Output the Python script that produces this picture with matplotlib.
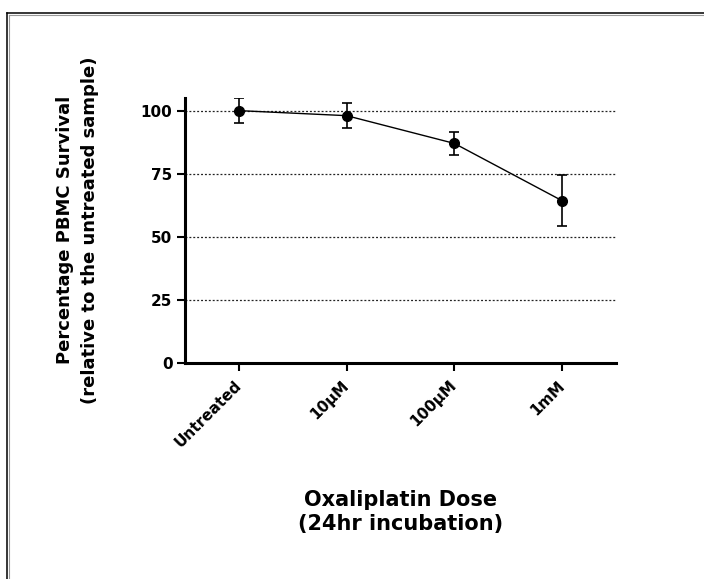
import matplotlib
matplotlib.use("Agg")
import matplotlib.pyplot as plt
from matplotlib.lines import Line2D

# Dose-response data: mean survival (% of untreated) with error
doses = ["Untreated", "10µM", "100µM", "1mM"]
survival = [100, 98, 87, 64.3]
error = [4.9, 4.9, 4.6, 10.1]
y_ticks = [0, 25, 50, 75, 100]

plt.rcParams["font.family"] = ["DejaVu Sans"]
plt.rcParams["font.weight"] = "bold"
plt.rcParams["lines.scale_dashes"] = False

W, H = 704, 579
fig = plt.figure(figsize=(W / 100, H / 100), dpi=100)
fig.patch.set_facecolor("white")

# axes box in pixel coordinates
x0, x1, ytop, ybot = 185, 616, 98, 363
ax = fig.add_axes([x0 / W, (H - ybot) / H, (x1 - x0) / W, (ybot - ytop) / H])

x = list(range(len(doses)))
ax.errorbar(x, survival, yerr=error, color="black", lw=1.0, marker="o",
            ms=7, mfc="black", mec="black", ecolor="black", elinewidth=1.2,
            capsize=3.4, capthick=1.2, zorder=3)

ax.set_xlim(-0.5, 3.5)
ax.set_ylim(0, 105)
ax.set_yticks(y_ticks)
ax.set_xticks(x)
ax.set_xticklabels(doses, rotation=45, ha="right", va="center",
                   rotation_mode="anchor")

# dotted horizontal guides
for yv in y_ticks[1:]:
    ax.axhline(yv, color="#222222", lw=0.9, dashes=(1.4, 1.4), zorder=1)

for side in ("top", "right"):
    ax.spines[side].set_visible(False)
for side in ("left", "bottom"):
    ax.spines[side].set_linewidth(2.2)

ax.tick_params(axis="both", direction="out", length=5.5, width=1.5,
               labelsize=11, pad=3.5)
ax.tick_params(axis="x", pad=9)
for lab in ax.get_xticklabels() + ax.get_yticklabels():
    lab.set_fontweight("bold")

fig.text(78 / W, (H - 230) / H,
         "Percentage PBMC Survival\n(relative to the untreated sample)",
         rotation=90, ha="center", va="center", fontsize=13,
         fontweight="bold", linespacing=1.5, multialignment="center")

fig.text((x0 + x1) / 2 / W, (H - 512) / H,
         "Oxaliplatin Dose\n(24hr incubation)",
         ha="center", va="center", fontsize=15, fontweight="bold",
         linespacing=1.3, multialignment="center")

# outer frame along the top and left edges
fig.add_artist(Line2D([7 / W, 7 / W], [0, 1 - 13 / H], color="black",
                      lw=1.1, transform=fig.transFigure))
fig.add_artist(Line2D([7 / W, 1], [1 - 13 / H, 1 - 13 / H], color="black",
                      lw=1.1, transform=fig.transFigure))
fig.add_artist(Line2D([8.6 / W, 8.6 / W], [0, 1 - 14.6 / H], color="#999999",
                      lw=0.8, transform=fig.transFigure))
fig.add_artist(Line2D([8.6 / W, 1], [1 - 14.6 / H, 1 - 14.6 / H],
                      color="#999999", lw=0.8, transform=fig.transFigure))

fig.savefig("out.png", dpi=100, facecolor="white")
